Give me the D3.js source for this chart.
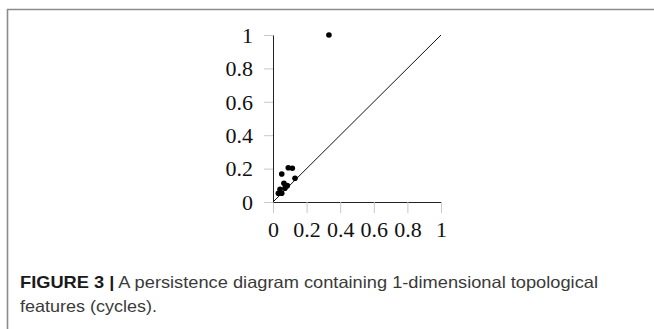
<!DOCTYPE html>
<html>
<head>
<meta charset="utf-8">
<script src="https://cdn.jsdelivr.net/npm/d3@7"></script>
<style>
  body { margin: 0; background: #fff; }
  .axis text { font-family: 'Liberation Serif', serif; font-size: 22px; fill: #111; }
  .axis .domain { stroke: #222; }
  .axis .tick line { stroke: #c8c8c8; }
</style>
</head>
<body>
<div id="chart"></div>
<script>
// birth / death pairs of the 1-dimensional features
const births = [0.333, 0.052, 0.091, 0.115, 0.131, 0.065, 0.085, 0.071, 0.042, 0.032, 0.052];
const deaths = [1.0, 0.168, 0.205, 0.202, 0.142, 0.112, 0.098, 0.082, 0.076, 0.052, 0.052];
const tickVals = [0, 0.2, 0.4, 0.6, 0.8, 1];
const captionBold = 'FIGURE 3 |';
const captionLine1 = ' A persistence diagram containing 1-dimensional topological';
const captionLine2 = 'features (cycles).';

const width = 654;
const height = 329;
const plot = { left: 273, right: 441, top: 35, bottom: 202 };

const svg = d3.select('#chart')
  .append('svg')
  .attr('width', width)
  .attr('height', height);

// frame around the figure
svg.append('path')
  .attr('d', 'M7.5,' + height + 'V9.5H' + width)
  .attr('fill', 'none')
  .attr('stroke', '#8c8c8c')
  .attr('stroke-width', 1.6);

const xScale = d3.scaleLinear().domain([0, 1]).range([plot.left, plot.right]);
const yScale = d3.scaleLinear().domain([0, 1]).range([plot.bottom, plot.top]);

const xAxis = d3.axisBottom(xScale)
  .tickValues(tickVals)
  .tickSize(11)
  .tickSizeOuter(0)
  .tickFormat((d) => String(d));

svg.append('g')
  .attr('class', 'axis')
  .attr('transform', 'translate(0,' + plot.bottom + ')')
  .call(xAxis)
  .selectAll('text')
  .attr('y', 35)
  .attr('dy', 0);

const yAxis = d3.axisLeft(yScale)
  .tickValues(tickVals)
  .tickSize(9)
  .tickSizeOuter(0)
  .tickPadding(11)
  .tickFormat((d) => String(d));

svg.append('g')
  .attr('class', 'axis')
  .attr('transform', 'translate(' + plot.left + ',0)')
  .call(yAxis)
  .selectAll('text')
  .attr('dy', '0.33em');

// diagonal birth = death
svg.append('line')
  .attr('x1', xScale(0))
  .attr('y1', yScale(0))
  .attr('x2', xScale(1))
  .attr('y2', yScale(1))
  .attr('stroke', '#111')
  .attr('stroke-width', 1);

const points = births.map((b, i) => ({ x: b, y: deaths[i] }));
svg.append('g')
  .selectAll('circle')
  .data(points)
  .join('circle')
  .attr('cx', (d) => xScale(d.x))
  .attr('cy', (d) => yScale(d.y))
  .attr('r', 2.8)
  .attr('fill', '#000');

// caption
const cap = svg.append('g')
  .style('font-family', "'Liberation Sans', Arial, sans-serif")
  .style('font-size', '16.5px');

const t1 = cap.append('text')
  .attr('x', 20)
  .attr('y', 288)
  .attr('textLength', 578)
  .attr('lengthAdjust', 'spacingAndGlyphs');
t1.append('tspan').attr('font-weight', 'bold').attr('fill', '#1a1a1a').text(captionBold);
t1.append('tspan').attr('fill', '#3a3a3a').text(captionLine1);

cap.append('text')
  .attr('x', 20)
  .attr('y', 312)
  .attr('textLength', 137)
  .attr('lengthAdjust', 'spacingAndGlyphs')
  .attr('fill', '#3a3a3a')
  .text(captionLine2);
</script>
</body>
</html>
